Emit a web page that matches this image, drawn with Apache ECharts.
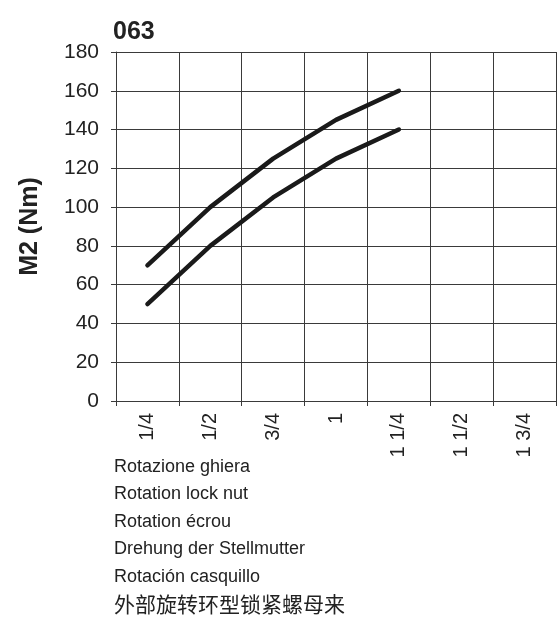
<!DOCTYPE html>
<html>
<head>
<meta charset="utf-8">
<script src="https://cdn.jsdelivr.net/npm/echarts@6/dist/echarts.min.js"></script>
<style>
  html, body { margin: 0; padding: 0; background: #fff; }
  #chart { width: 557px; height: 625px; }
</style>
</head>
<body>
<div id="chart"></div>
<script>
const categories = ['1/4', '1/2', '3/4', '1', '1 1/4', '1 1/2', '1 3/4']
const upperValues = [70, 100, 125, 145, 160]
const lowerValues = [50, 80, 105, 125, 140]
const captionLines = [
  'Rotazione ghiera',
  'Rotation lock nut',
  'Rotation écrou',
  'Drehung der Stellmutter',
  'Rotación casquillo',
  '外部旋转环型锁紧螺母来',
]

const font = '"Liberation Sans", Arial, sans-serif'
const ink = '#222'
const gridColor = '#3a3a3a'

const chart = echarts.init(document.getElementById('chart'), null, { renderer: 'canvas' })

const lineStyle = { color: '#1a1a1a', width: 4.5, cap: 'round', join: 'round' }

const option = {
  backgroundColor: '#fff',
  animation: false,
  title: {
    text: '063',
    left: 108,
    top: 15,
    textStyle: { fontFamily: font, fontSize: 25, fontWeight: 'bold', color: ink },
  },
  grid: { left: 116, right: 1, top: 52, bottom: 224 },
  xAxis: {
    type: 'category',
    data: categories,
    boundaryGap: true,
    axisLine: { show: true, lineStyle: { color: gridColor, width: 1 } },
    axisTick: { show: true, length: 5, interval: 0, lineStyle: { color: gridColor } },
    splitLine: { show: true, interval: 0, lineStyle: { color: gridColor, width: 1 } },
    axisLabel: {
      interval: 0,
      rotate: 90,
      margin: 12,
      color: ink,
      fontFamily: font,
      fontSize: 20,
    },
  },
  yAxis: {
    type: 'value',
    min: 0,
    max: 180,
    interval: 20,
    name: 'M2 (Nm)',
    nameLocation: 'middle',
    nameRotate: 90,
    nameGap: 73,
    nameTextStyle: { fontFamily: font, fontSize: 25, fontWeight: 'bold', color: ink },
    axisLine: { show: true, lineStyle: { color: gridColor, width: 1 } },
    axisTick: { show: true, length: 5, lineStyle: { color: gridColor } },
    splitLine: { show: true, lineStyle: { color: gridColor, width: 1 } },
    axisLabel: { margin: 17, color: ink, fontFamily: font, fontSize: 21 },
  },
  graphic: captionLines.map((line, i) => ({
    type: 'text',
    left: 114,
    top: i === 5 ? 458 + i * 27.5 - 2 : 458 + i * 27.5,
    style: {
      text: line,
      fill: ink,
      font: i === 5 ? '21px "Noto Sans CJK SC", sans-serif' : '18px ' + font,
    },
  })),
  series: [
    { type: 'line', data: upperValues, symbol: 'none', lineStyle },
    { type: 'line', data: lowerValues, symbol: 'none', lineStyle },
  ],
}

chart.setOption(option)
</script>
</body>
</html>
